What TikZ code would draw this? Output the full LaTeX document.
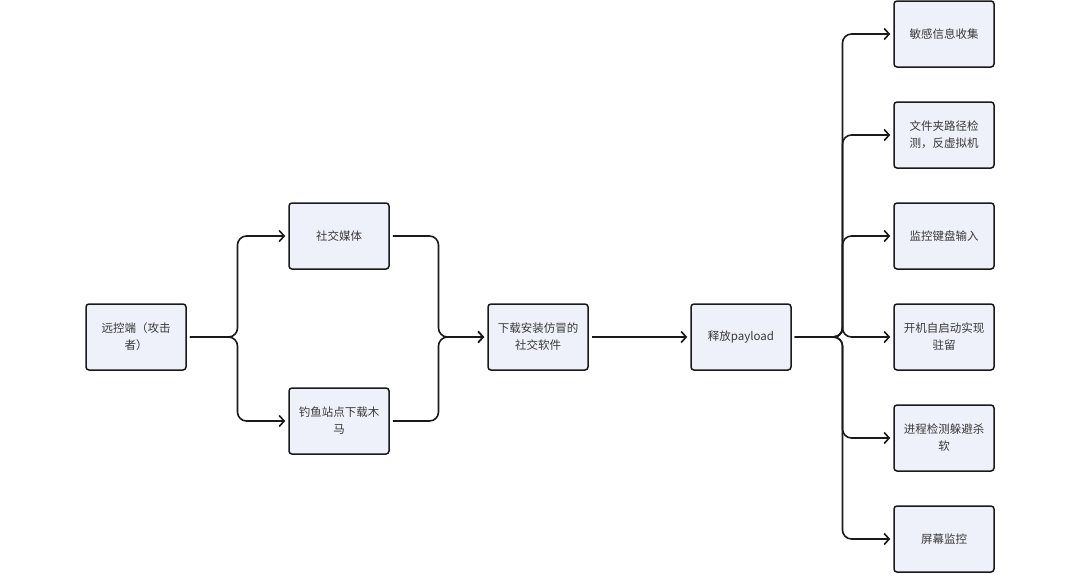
\documentclass[tikz,border=0pt]{standalone}
\usepackage{fontspec}
\setmainfont{Noto Sans CJK SC}
\usetikzlibrary{arrows.meta}
\definecolor{boxfill}{HTML}{EEF0FA}
\definecolor{textgray}{HTML}{3A3A3A}
\definecolor{linec}{HTML}{1A1A1A}
\begin{document}
\begin{tikzpicture}[x=1pt,y=-1pt,
 box/.style={draw=linec, line width=1.5pt, rounded corners=3pt, fill=boxfill,
   minimum width=100pt, minimum height=66pt, align=center, text width=88pt,
   font=\fontsize{11.5}{17}\selectfont, text=textgray, inner sep=0pt},
 conn/.style={line width=1.6pt, draw=linec, rounded corners=9pt,
   shorten <=3pt, shorten >=3pt,
   -{Straight Barb[length=5pt,width=11pt,line width=1.6pt]}}]
\useasboundingbox (0,0) rectangle (1080,587);

\node[box] (a) at (136,337) {远控端（攻击\\者）};
\node[box] (b) at (339,236) {社交媒体};
\node[box] (c) at (339,421) {钓鱼站点下载木\\马};
\node[box] (d) at (538,337) {下载安装仿冒的\\社交软件};
\node[box] (e) at (741,337) {释放payload};

\node[box] (r1) at (944,34) {敏感信息收集};
\node[box] (r2) at (944,135) {文件夹路径检\\测，反虚拟机};
\node[box] (r3) at (944,236) {监控键盘输入};
\node[box] (r4) at (944,337) {开机自启动实现\\驻留};
\node[box] (r5) at (944,438) {进程检测躲避杀\\软};
\node[box] (r6) at (944,539) {屏幕监控};

\coordinate (j1) at (237.5,337);
\coordinate (j2) at (438.5,337);
\coordinate (j3) at (842.5,337);

\draw[conn] (a.east) -- (j1) |- (b.west);
\draw[conn] (a.east) -- (j1) |- (c.west);
\draw[conn] (b.east) -| (j2) -- (d.west);
\draw[conn] (c.east) -| (j2) -- (d.west);
\draw[conn] (d.east) -- (e.west);
\foreach \r in {r1,r2,r3,r4,r5,r6}
  \draw[conn] (e.east) -- (j3) |- (\r.west);
\end{tikzpicture}
\end{document}
